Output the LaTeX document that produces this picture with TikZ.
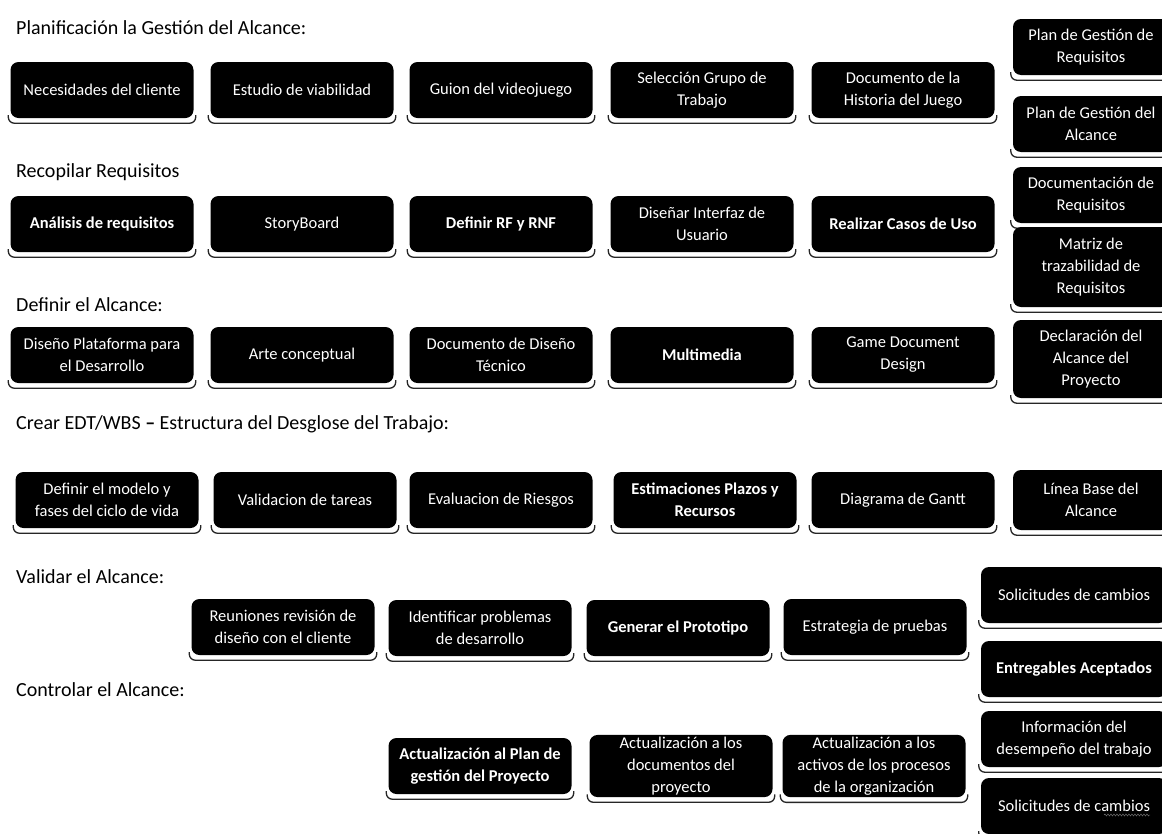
\documentclass[tikz,border=0pt]{standalone}
\usepackage{fontspec}
\setmainfont{Carlito}
\usetikzlibrary{calc, backgrounds, decorations.pathmorphing}

\begin{document}
\begin{tikzpicture}[x=1pt, y=-1pt,
  caja/.style={fill=black, text=white, rounded corners=8, align=center, inner sep=2pt,
    minimum width=183, minimum height=56, font=\fontsize{16.5}{22}\selectfont},
  lateral/.style={caja, minimum width=156},% right column, cut by the page
  titulo/.style={anchor=west, inner sep=0pt, font=\fontsize{20}{24}\selectfont},
  sombra/.style={draw=black!85, line width=1.3pt, rounded corners=6}]
\useasboundingbox (0,0) rectangle (1162,833);

\node[titulo] (tit1) at (16,28) {Planificación la Gestión del Alcance:};
\node[caja] (necesidades) at (102,90) {Necesidades del cliente};
\node[caja] (estudio) at (302,90) {Estudio de viabilidad};
\node[caja] (guion) at (501,90) {Guion del videojuego};
\node[caja] (seleccion) at (702,90) {Selección Grupo de\\Trabajo};
\node[caja] (historia) at (903,90) {Documento de la\\Historia del Juego};

\node[titulo] (tit2) at (16,172) {Recopilar Requisitos};
\node[caja, font=\fontsize{16.5}{22}\selectfont\bfseries] (analisis) at (102,224) {Análisis de requisitos};
\node[caja] (storyboard) at (302,224) {StoryBoard};
\node[caja, font=\fontsize{16.5}{22}\selectfont\bfseries] (rfrnf) at (501,224) {Definir RF y RNF};
\node[caja] (interfaz) at (702,224) {Diseñar Interfaz de\\Usuario};
\node[caja, font=\fontsize{16.5}{22}\selectfont\bfseries] (casos) at (903,224) {Realizar Casos de Uso};

\node[titulo] (tit3) at (16,305) {Definir el Alcance:};
\node[caja] (plataforma) at (102,355) {Diseño Plataforma para\\el Desarrollo};
\node[caja] (arte) at (302,355) {Arte conceptual};
\node[caja] (tecnico) at (501,355) {Documento de Diseño\\Técnico};
\node[caja, font=\fontsize{16.5}{22}\selectfont\bfseries] (multimedia) at (702,355) {Multimedia};
\node[caja] (gdd) at (903,355) {Game Document\\Design};

\node[titulo] (tit4) at (16,424) {Crear EDT/WBS \textbf{–} Estructura del Desglose del Trabajo:};
\node[caja] (modelo) at (107,500) {Definir el modelo y\\fases del ciclo de vida};
\node[caja] (tareas) at (305,500) {Validacion de tareas};
\node[caja] (riesgos) at (501,500) {Evaluacion de Riesgos};
\node[caja, font=\fontsize{16.5}{22}\selectfont\bfseries] (plazos) at (705,500) {Estimaciones Plazos y\\Recursos};
\node[caja] (gantt) at (903,500) {Diagrama de Gantt};

\node[titulo] (tit5) at (16,577) {Validar el Alcance:};
\node[caja] (reuniones) at (283,627) {Reuniones revisión de\\diseño con el cliente};
\node[caja] (problemas) at (480,628) {Identificar problemas\\de desarrollo};
\node[caja, font=\fontsize{16.5}{22}\selectfont\bfseries] (prototipo) at (678,628) {Generar el Prototipo};
\node[caja] (pruebas) at (875,627) {Estrategia de pruebas};

\node[titulo] (tit6) at (16,690) {Controlar el Alcance:};
\node[caja, font=\fontsize{16.5}{22}\selectfont\bfseries] (actplan) at (480,766) {Actualización al Plan de\\gestión del Proyecto};
\node[caja] (actdocs) at (681,766) {Actualización a los\\documentos del\\proyecto};
\node[caja] (actactivos) at (874,766) {Actualización a los\\activos de los procesos\\de la organización};

% salidas a la derecha
\node[lateral] (pgr) at (1091,47) {Plan de Gestión de\\Requisitos};
\node[lateral] (pga) at (1091,124) {Plan de Gestión del\\Alcance};
\node[lateral] (docreq) at (1091,195) {Documentación de\\Requisitos};
\node[lateral, minimum height=80] (matriz) at (1091,267) {Matriz de\\trazabilidad de\\Requisitos};
\node[lateral, minimum height=78] (declaracion) at (1091,359) {Declaración del\\Alcance del\\Proyecto};
\node[lateral, minimum height=60] (lineabase) at (1091,500) {Línea Base del\\Alcance};
\node[caja, minimum width=186] (cambios1) at (1074,595) {Solicitudes de cambios};
\node[caja, minimum width=186, font=\fontsize{16.5}{22}\selectfont\bfseries] (entregables) at (1074,669) {Entregables Aceptados};
\node[caja, minimum width=186] (desempeno) at (1074,739) {Información del\\desempeño del trabajo};
\node[caja, minimum width=186] (cambios2) at (1074,806) {Solicitudes de cambios};
\draw[black!50, decorate, decoration={snake, amplitude=1, segment length=3}]
  ($(cambios2.center)+(30,9)$) -- ($(cambios2.center)+(76,9)$);% corrector

\begin{scope}[on background layer]
\foreach \n in {necesidades, estudio, guion, seleccion, historia, analisis, storyboard, rfrnf,
  interfaz, casos, plataforma, arte, tecnico, multimedia, gdd, modelo, tareas, riesgos, plazos,
  gantt, reuniones, problemas, prototipo, pruebas, actplan, actdocs, actactivos, pgr, pga,
  docreq, matriz, declaracion, lineabase, cambios1, entregables, desempeno, cambios2}
  \draw[sombra] ($(\n.south west)+(-2,-3)$) |- ($(\n.south)+(0,5)$) -| ($(\n.south east)+(2,-3)$);
\end{scope}
\end{tikzpicture}
\end{document}
